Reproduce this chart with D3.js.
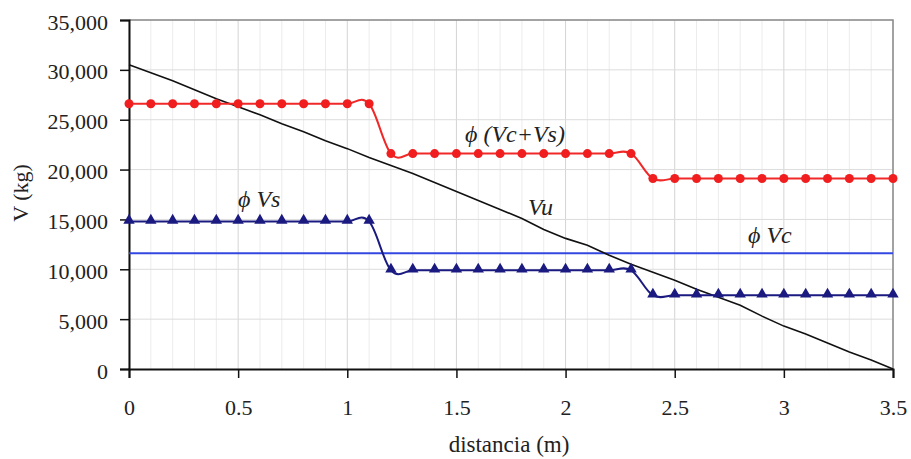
<!DOCTYPE html>
<html><head><meta charset="utf-8">
<script src="https://cdn.jsdelivr.net/npm/d3@7"></script>
<style>
body{margin:0;background:#fff;}
svg text{font-family:'Liberation Serif','Times New Roman',serif;fill:#222;}
</style></head>
<body><svg id="c" width="911" height="459"></svg>
<script>
// ---- data ----
const xDist = [0,0.1,0.2,0.3,0.4,0.5,0.6,0.7,0.8,0.9,1.0,1.1,1.2,1.3,1.4,1.5,1.6,1.7,1.8,1.9,2.0,2.1,2.2,2.3,2.4,2.5,2.6,2.7,2.8,2.9,3.0,3.1,3.2,3.3,3.4,3.5];
const vu = [30500,29700,28900,28000,27100,26300,25500,24600,23800,22900,22100,21200,20400,19600,18700,17800,16900,16000,15100,14000,13100,12400,11400,10500,9700,8900,8000,7200,6400,5300,4300,3500,2600,1700,900,0];
const phiVcVs = [26600,26600,26600,26600,26600,26600,26600,26600,26600,26600,26600,26600,21600,21600,21600,21600,21600,21600,21600,21600,21600,21600,21600,21600,19100,19100,19100,19100,19100,19100,19100,19100,19100,19100,19100,19100];
const phiVs = [14800,14800,14800,14800,14800,14800,14800,14800,14800,14800,14800,14800,9900,9900,9900,9900,9900,9900,9900,9900,9900,9900,9900,9900,7400,7400,7400,7400,7400,7400,7400,7400,7400,7400,7400,7400];
const phiVc = [11600,11600];
const phiVcX = [0,3.5];
const xTicks = [0,0.5,1,1.5,2,2.5,3,3.5];
const yTicks = [0,5000,10000,15000,20000,25000,30000,35000];
const xTitle = "distancia (m)";
const yTitle = "V (kg)";
const seriesLabels = ["\u03d5 (Vc+Vs)","\u03d5 Vs","Vu","\u03d5 Vc"];

// ---- chart ----
const FONT = "'Liberation Serif','Times New Roman',serif";
const svg = d3.select("#c");
const x = d3.scaleLinear().domain([0,3.5]).range([129,893]);
const y = d3.scaleLinear().domain([0,35000]).range([369,20]);
const curve = d3.curveCardinal.tension(-0.1);

// grid
const minor = d3.range(0,36).map(i=>i/10);
svg.append("g").selectAll("line").data(minor).join("line")
  .attr("x1",d=>x(d)).attr("x2",d=>x(d)).attr("y1",y(35000)).attr("y2",y(0))
  .attr("stroke",d=>Math.abs(d*2-Math.round(d*2))<1e-6?"#d4d4d4":"#ececec").attr("stroke-width",1);
svg.append("g").selectAll("line").data(yTicks.slice(1)).join("line")
  .attr("x1",x(0)).attr("x2",x(3.5)).attr("y1",d=>y(d)).attr("y2",d=>y(d))
  .attr("stroke","#dcdcdc").attr("stroke-width",1);

// border top/right
svg.append("path").attr("d",`M${x(0)},${y(35000)}H${x(3.5)}V${y(0)}`)
  .attr("fill","none").attr("stroke","#8a8a8a").attr("stroke-width",1.5);

// axes
const yAxis = svg.append("g").attr("transform",`translate(${x(0)},0)`)
  .call(d3.axisLeft(y).tickValues(yTicks).tickFormat(d3.format(",")).tickSize(9).tickPadding(12));
yAxis.attr("font-family",FONT);
yAxis.select(".domain").attr("stroke","#111").attr("stroke-width",2);
yAxis.selectAll(".tick line").attr("stroke","#111").attr("stroke-width",1.5);
yAxis.selectAll("text").attr("dy",null).attr("y",9).style("font-size","22px").attr("fill","#222");

const xAxis = svg.append("g").attr("transform",`translate(0,${y(0)})`)
  .call(d3.axisBottom(x).tickValues(xTicks).tickFormat(d=>String(d)).tickSize(9));
xAxis.attr("font-family",FONT);
xAxis.select(".domain").attr("stroke","#111").attr("stroke-width",2);
xAxis.selectAll(".tick line").attr("stroke","#111").attr("stroke-width",1.5);
xAxis.selectAll("text").attr("dy",null).attr("y",46).style("font-size","22px").attr("fill","#222");

svg.append("text").attr("x",509).attr("y",452).attr("text-anchor","middle")
  .style("font-size","23px").text(xTitle);
svg.append("text").attr("transform","translate(28,193) rotate(-90)").attr("text-anchor","middle")
  .style("font-size","22px").text(yTitle);

// phi Vc
const line = d3.line().x(d=>x(d[0])).y(d=>y(d[1]));
svg.append("path").datum(phiVcX.map((d,i)=>[d,phiVc[i]])).attr("d",line)
  .attr("fill","none").attr("stroke","#3347e0").attr("stroke-width",2);

// Vu
svg.append("path").datum(xDist.map((d,i)=>[d,vu[i]])).attr("d",line)
  .attr("fill","none").attr("stroke","#111").attr("stroke-width",1.6);

// phi(Vc+Vs)
const sline = d3.line().x(d=>x(d[0])).y(d=>y(d[1])).curve(curve);
const red = xDist.map((d,i)=>[d,phiVcVs[i]]);
svg.append("path").datum(red).attr("d",sline)
  .attr("fill","none").attr("stroke","#f02828").attr("stroke-width",2);
svg.append("g").selectAll("circle").data(red).join("circle")
  .attr("cx",d=>x(d[0])).attr("cy",d=>y(d[1])).attr("r",4.5).attr("fill","#f01e1e");

// phi Vs
const blue = xDist.map((d,i)=>[d,phiVs[i]]);
svg.append("path").datum(blue).attr("d",sline)
  .attr("fill","none").attr("stroke","#1a1a80").attr("stroke-width",2);
const tri = d3.symbol().type(d3.symbolTriangle).size(56);
svg.append("g").selectAll("path").data(blue).join("path")
  .attr("transform",d=>`translate(${x(d[0])},${y(d[1])-1})`).attr("d",tri).attr("fill","#1a1a80");

// series labels
const lab = (tx,ty,t)=>svg.append("text").attr("x",tx).attr("y",ty)
  .style("font-size","24px").style("font-style","italic").text(t);
lab(465,142,seriesLabels[0]);
lab(238,207,seriesLabels[1]);
lab(528,215,seriesLabels[2]);
lab(748,243,seriesLabels[3]);
</script></body></html>
